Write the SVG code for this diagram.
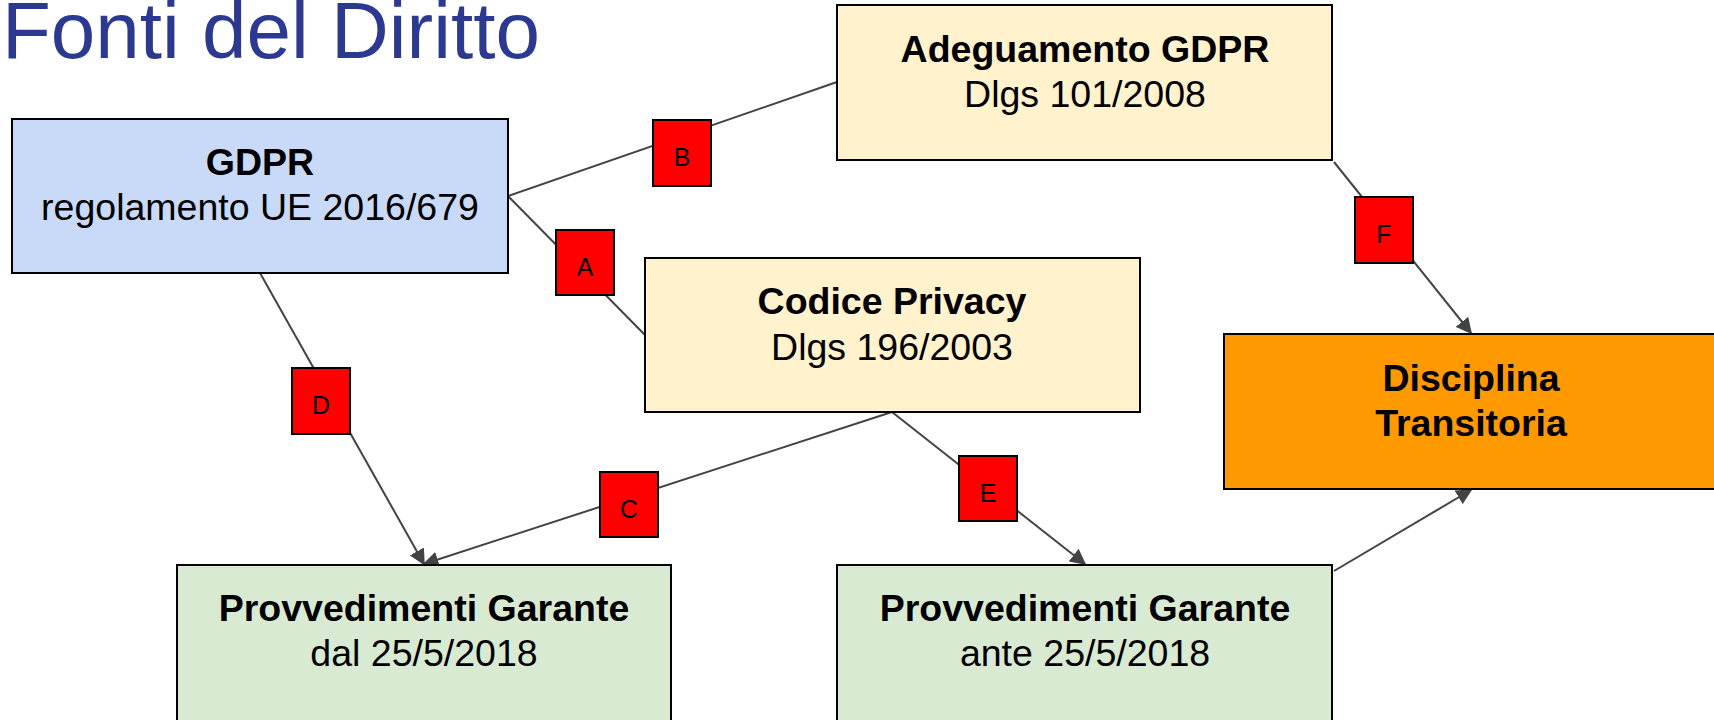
<svg xmlns="http://www.w3.org/2000/svg" width="1714" height="720" viewBox="0 0 1714 720">
  <defs>
    <marker id="arrow" viewBox="0 0 10 10" refX="9" refY="5" markerWidth="16" markerHeight="16" markerUnits="userSpaceOnUse" orient="auto">
      <path d="M0,0 L10,5 L0,10 z" fill="#434343"/>
    </marker>
    <style>
      .box { stroke: #000; stroke-width: 2; }
      .blue { fill: #c9daf8; }
      .yellow { fill: #fff2cc; }
      .green { fill: #d9ead3; }
      .orange { fill: #ff9900; }
      .tag { fill: #ff0000; stroke: #000; stroke-width: 2; }
      .t { font-family: "Liberation Sans", Arial, sans-serif; font-size: 37.5px; fill: #000; text-anchor: middle; }
      .b { font-weight: bold; }
      .lt { font-family: "Liberation Sans", Arial, sans-serif; font-size: 25px; fill: #000; text-anchor: middle; }
      .link { stroke: #434343; stroke-width: 2; fill: none; }
      .title { font-family: "Liberation Sans", Arial, sans-serif; font-size: 80px; fill: #2b3990; }
    </style>
  </defs>

  <rect width="1714" height="720" fill="#fff"/>

  <text class="title" x="2" y="58">Fonti del Diritto</text>

  <!-- connectors -->
  <g id="connectors">
    <line class="link" x1="508" y1="196" x2="837" y2="82"/>
    <line class="link" x1="508" y1="196" x2="645" y2="335"/>
    <line class="link" x1="260" y1="273" x2="424" y2="564" marker-end="url(#arrow)"/>
    <line class="link" x1="892" y1="412" x2="424" y2="564" marker-end="url(#arrow)"/>
    <line class="link" x1="892" y1="412" x2="1085" y2="564" marker-end="url(#arrow)"/>
    <line class="link" x1="1334" y1="162" x2="1471" y2="333" marker-end="url(#arrow)"/>
    <line class="link" x1="1334" y1="571" x2="1471" y2="490" marker-end="url(#arrow)"/>
  </g>

  <!-- nodes -->
  <g id="gdpr">
    <rect class="box blue" x="12" y="119" width="496" height="154"/>
    <text class="t b" x="260" y="175">GDPR</text>
    <text class="t" x="260" y="220">regolamento UE 2016/679</text>
  </g>

  <g id="adeguamento">
    <rect class="box yellow" x="837" y="5" width="495" height="155"/>
    <text class="t b" x="1085" y="62">Adeguamento GDPR</text>
    <text class="t" x="1085" y="107">Dlgs 101/2008</text>
  </g>

  <g id="codice">
    <rect class="box yellow" x="645" y="258" width="495" height="154"/>
    <text class="t b" x="892" y="314">Codice Privacy</text>
    <text class="t" x="892" y="360">Dlgs 196/2003</text>
  </g>

  <g id="disciplina">
    <rect class="box orange" x="1224" y="334" width="496" height="155"/>
    <text class="t b" x="1471" y="391">Disciplina</text>
    <text class="t b" x="1471" y="436">Transitoria</text>
  </g>

  <g id="provv-dal">
    <rect class="box green" x="177" y="565" width="494" height="160"/>
    <text class="t b" x="424" y="621">Provvedimenti Garante</text>
    <text class="t" x="424" y="666">dal 25/5/2018</text>
  </g>

  <g id="provv-ante">
    <rect class="box green" x="837" y="565" width="495" height="160"/>
    <text class="t b" x="1085" y="621">Provvedimenti Garante</text>
    <text class="t" x="1085" y="666">ante 25/5/2018</text>
  </g>

  <!-- connector tags -->
  <g id="tag-a">
    <rect class="tag" x="556" y="230" width="58" height="65"/>
    <text class="lt" x="585" y="276">A</text>
  </g>
  <g id="tag-b">
    <rect class="tag" x="653" y="120" width="58" height="66"/>
    <text class="lt" x="682" y="166">B</text>
  </g>
  <g id="tag-c">
    <rect class="tag" x="600" y="472" width="58" height="65"/>
    <text class="lt" x="629" y="518">C</text>
  </g>
  <g id="tag-d">
    <rect class="tag" x="292" y="368" width="58" height="66"/>
    <text class="lt" x="321" y="414">D</text>
  </g>
  <g id="tag-e">
    <rect class="tag" x="959" y="456" width="58" height="65"/>
    <text class="lt" x="988" y="502">E</text>
  </g>
  <g id="tag-f">
    <rect class="tag" x="1355" y="197" width="58" height="66"/>
    <text class="lt" x="1384" y="243">F</text>
  </g>
</svg>
